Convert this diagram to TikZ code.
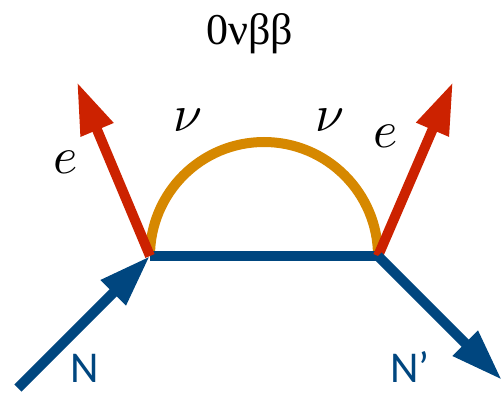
\documentclass[tikz,border=0pt]{standalone}
\usepackage{fontspec}
\setmainfont{Carlito}
\newfontfamily\titlefont{Liberation Serif}
\usetikzlibrary{arrows.meta}
\definecolor{nblue}{RGB}{0,70,127}
\definecolor{ered}{RGB}{204,34,0}
\definecolor{nuorange}{RGB}{214,136,0}
\begin{document}
\begin{tikzpicture}[x=1pt,y=1pt,
	fermion/.style={line width=10pt,nblue},
	electron/.style={line width=10pt,ered,-{Triangle[length=52pt,width=33pt]}},
	neutrino/.style={line width=10pt,nuorange},
	heavy/.style={fermion,-{Triangle[length=52pt,width=33pt]}},
	lbl/.style={anchor=base,inner sep=0pt},
	mlbl/.style={lbl,scale=5.2}]
	\useasboundingbox (0,0) rectangle (502,394);
	% vertices and free ends
	\coordinate (vl) at (150,138);
	\coordinate (vr) at (378,138);
	\coordinate (nin) at (18,6);
	\coordinate (nout) at (502,14);
	\coordinate (el) at (77,312);
	\coordinate (er) at (453,312);
	\draw[neutrino] (vl) arc[start angle=180,end angle=0,radius=114];
	\draw[fermion] (vl) -- (vr);
	\draw[electron] (vl) -- (el);
	\draw[electron] (vr) -- (er);
	\draw[heavy] (nin) -- (vl);
	\draw[heavy] (vr) -- (nout);
	% labels
	\node[lbl] (title) at (250,349) {\titlefont\fontsize{44}{50}\selectfont 0νββ};
	\node[mlbl] (nul) at (188,262) {$\nu$};
	\node[mlbl] (nur) at (330,262) {$\nu$};
	\node[mlbl] (elab) at (66,221) {$e$};
	\node[mlbl] (erlab) at (386,246) {$e$};
	\node[lbl,text=nblue] (nlab) at (85,12) {\fontsize{44}{50}\selectfont N};
	\node[lbl,text=nblue] (nplab) at (410,12) {\fontsize{44}{50}\selectfont N’};
\end{tikzpicture}
\end{document}
